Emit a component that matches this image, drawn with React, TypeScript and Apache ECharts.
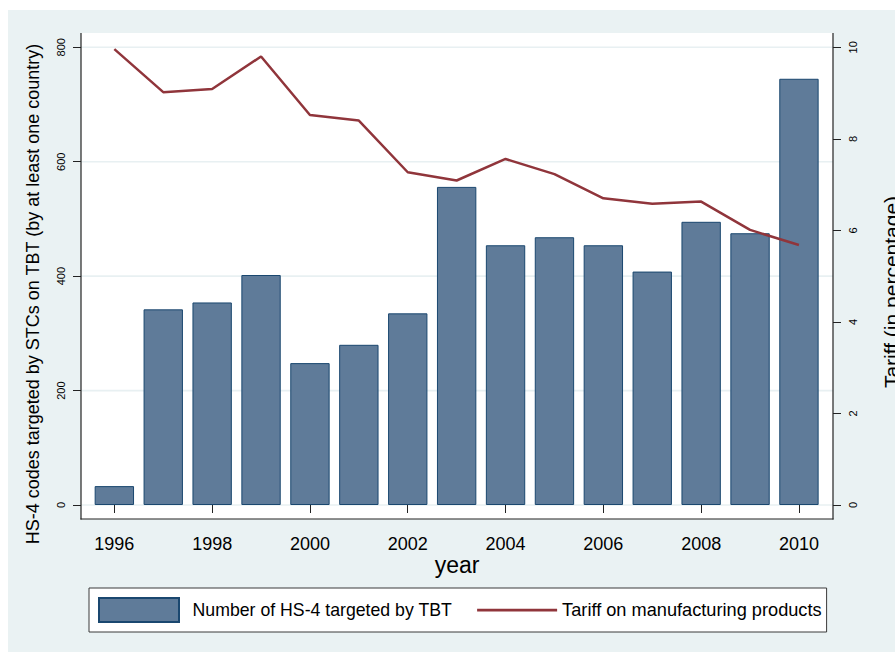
import React, { useEffect, useRef } from "react";
import * as echarts from "echarts";

const years = ["1996", "1997", "1998", "1999", "2000", "2001", "2002", "2003", "2004", "2005", "2006", "2007", "2008", "2009", "2010"];
const tbtCounts = [33, 342, 354, 402, 248, 280, 335, 556, 454, 468, 454, 408, 495, 475, 745];
const tariffs = [9.96, 9.02, 9.09, 9.8, 8.52, 8.4, 7.27, 7.09, 7.56, 7.23, 6.7, 6.58, 6.63, 6.01, 5.68];
const leftTicks = [0, 200, 400, 600, 800];

const barName = "Number of HS-4 targeted by TBT";
const lineName = "Tariff on manufacturing products";
const leftTitle = "HS-4 codes targeted by STCs on TBT (by at least one country)";
const rightTitle = "Tariff (in percentage)";
const xTitle = "year";

const FONT = "'Liberation Sans', Arial, Helvetica, sans-serif";
const LINE_ICON = "path://M0,0 L0.01,0 L0.01,0.01 Z M0,10.8 L80,10.8 L80,13.4 L0,13.4 Z M79.99,24 L80,24 L80,23.99 Z";

export default function App() {
  const ref = useRef<HTMLDivElement>(null);
  useEffect(() => {
    document.body.style.margin = "0";
    const chart = echarts.init(ref.current!, null, { renderer: "svg" });
    const gridLeft = 89.9;
    const gridRight = 71.6;
    const gridTop = 47.3;
    const gridBottom = 147;
    chart.setOption({
      animation: false,
      textStyle: { fontFamily: FONT },
      grid: { left: gridLeft, right: gridRight, top: gridTop, bottom: gridBottom, containLabel: false },
      legend: {
        left: 89,
        top: 588,
        width: 790,
        orient: "horizontal",
        backgroundColor: "#ffffff",
        borderColor: "#3a3a3a",
        borderWidth: 1,
        borderRadius: 0,
        padding: [9, 5, 9, 9],
        itemWidth: 80,
        itemHeight: 24,
        itemGap: 25,
        textStyle: { fontSize: 17.7, color: "#000", fontFamily: FONT },
        data: [
          { name: barName, icon: "rect", textStyle: { padding: [0, 0, 0, 8.6], fontSize: 17.7 } },
          { name: lineName, icon: LINE_ICON, itemStyle: { color: "#90353b", borderWidth: 0 }, textStyle: { padding: [0, 0, 0, 0], fontSize: 18.2 } },
        ],
      },
      xAxis: {
        type: "category",
        data: years,
        offset: 14,
        axisLine: { show: false },
        axisTick: { show: true, alignWithLabel: true, interval: 1, length: 8, lineStyle: { color: "#222", width: 1 } },
        axisLabel: { interval: 1, fontSize: 18, color: "#000", margin: 16, fontFamily: FONT },
        splitLine: { show: false },
      },
      yAxis: [
        {
          type: "value",
          position: "left",
          min: 0,
          max: 800,
          interval: 200,
          offset: gridLeft - 81,
          axisLine: { show: false },
          axisTick: { show: true, length: 8, lineStyle: { color: "#222", width: 1 } },
          axisLabel: { rotate: 90, fontSize: 11, color: "#000", margin: 15, fontFamily: FONT },
          splitLine: { show: false },
        },
        {
          type: "value",
          position: "right",
          min: 0,
          max: 10,
          interval: 2,
          offset: 833 - (895 - gridRight),
          axisLine: { show: false },
          axisTick: { show: true, length: 8, lineStyle: { color: "#222", width: 1 } },
          axisLabel: { rotate: 90, fontSize: 11, color: "#000", margin: 14, fontFamily: FONT },
          splitLine: { show: false },
        },
      ],
      series: [
        {
          name: barName,
          type: "bar",
          data: tbtCounts,
          yAxisIndex: 0,
          barWidth: "80.5%",
          itemStyle: { color: "#5f7b99", borderColor: "#1a476f", borderWidth: 1 },
          z: 3,
        },
        {
          name: lineName,
          type: "line",
          data: tariffs,
          yAxisIndex: 1,
          symbol: "none",
          showSymbol: false,
          lineStyle: { color: "#90353b", width: 2.5 },
          itemStyle: { color: "#90353b" },
          z: 4,
        },
      ],
    });

    const gridLines = leftTicks.map((v) => {
      const y = chart.convertToPixel({ yAxisIndex: 0 }, v) as number;
      return {
        type: "line",
        z: -5,
        silent: true,
        shape: { x1: 81, y1: y, x2: 833, y2: y },
        style: { stroke: "#e8f0f2", lineWidth: 1.6 },
      };
    });

    chart.setOption({
      graphic: [
        { type: "rect", z: -20, silent: true, shape: { x: 8, y: 10, width: 887, height: 642 }, style: { fill: "#eaf2f3" } },
        { type: "rect", z: -10, silent: true, shape: { x: 81, y: 33, width: 752, height: 486 }, style: { fill: "#ffffff" } },
        ...gridLines,
        { type: "line", z: 10, silent: true, shape: { x1: 81, y1: 33, x2: 81, y2: 519.5 }, style: { stroke: "#222", lineWidth: 1.2 } },
        { type: "line", z: 10, silent: true, shape: { x1: 833, y1: 33, x2: 833, y2: 519.5 }, style: { stroke: "#222", lineWidth: 1.2 } },
        { type: "line", z: 10, silent: true, shape: { x1: 80.5, y1: 519, x2: 833.5, y2: 519 }, style: { stroke: "#222", lineWidth: 1.2 } },
        {
          type: "text",
          z: 10,
          x: 33,
          y: 294,
          rotation: Math.PI / 2,
          style: { text: leftTitle, fontSize: 18, fill: "#000", fontFamily: FONT, align: "center", verticalAlign: "middle" },
        },
        {
          type: "text",
          z: 10,
          x: 891,
          y: 292,
          rotation: Math.PI / 2,
          style: { text: rightTitle, fontSize: 21, fill: "#000", fontFamily: FONT, align: "center", verticalAlign: "middle" },
        },
        {
          type: "text",
          z: 10,
          x: 457,
          y: 565,
          style: { text: xTitle, fontSize: 23, fill: "#000", fontFamily: FONT, align: "center", verticalAlign: "middle" },
        },
      ],
    });

    return () => chart.dispose();
  }, []);
  return <div ref={ref} style={{ width: 895, height: 652 }} />;
}
